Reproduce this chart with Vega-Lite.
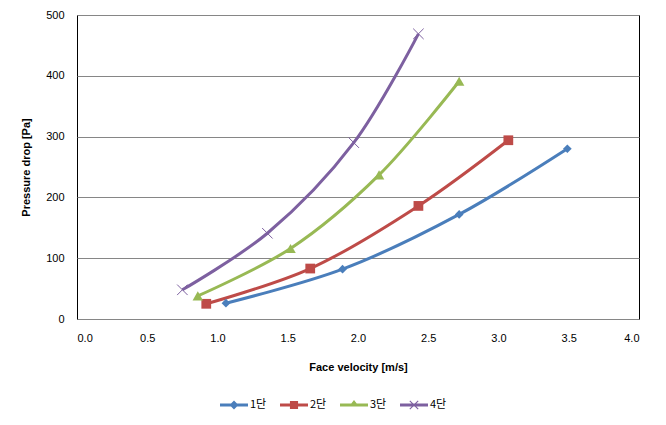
{
  "$schema": "https://vega.github.io/schema/vega-lite/v6.json",
  "autosize": "none",
  "width": 562,
  "height": 304,
  "padding": {"left": 77, "top": 15, "right": 27, "bottom": 106},
  "background": "white",
  "config": {
    "view": {"stroke": "#000000", "strokeWidth": 1},
    "font": "Liberation Sans",
    "axis": {
      "labelFont": "Liberation Sans",
      "labelFontSize": 11,
      "labelColor": "#000000",
      "titleFont": "Liberation Sans",
      "titleFontSize": 11,
      "titleFontWeight": "bold",
      "titleColor": "#000000",
      "ticks": false,
      "domain": false
    }
  },
  "data": {
    "values": [
      {"series": "1단", "v": 1.06, "p": 26},
      {"series": "1단", "v": 1.89, "p": 82},
      {"series": "1단", "v": 2.72, "p": 172},
      {"series": "1단", "v": 3.49, "p": 280},
      {"series": "2단", "v": 0.92, "p": 25},
      {"series": "2단", "v": 1.66, "p": 83},
      {"series": "2단", "v": 2.43, "p": 186},
      {"series": "2단", "v": 3.07, "p": 294},
      {"series": "3단", "v": 0.86, "p": 38},
      {"series": "3단", "v": 1.52, "p": 116},
      {"series": "3단", "v": 2.15, "p": 237},
      {"series": "3단", "v": 2.72, "p": 391},
      {"series": "4단", "v": 0.75, "p": 48},
      {"series": "4단", "v": 1.355, "p": 141},
      {"series": "4단", "v": 1.97, "p": 290},
      {"series": "4단", "v": 2.43, "p": 469}
    ]
  },
  "encoding": {
    "x": {
      "field": "v", "type": "quantitative",
      "scale": {"domain": [0, 4], "nice": false, "zero": false},
      "axis": {"values": [0, 0.5, 1, 1.5, 2, 2.5, 3, 3.5, 4], "format": ".1f", "grid": false, "labelPadding": 13, "title": "Face velocity [m/s]", "titlePadding": 18}
    },
    "y": {
      "field": "p", "type": "quantitative",
      "scale": {"domain": [0, 500], "nice": false},
      "axis": {"values": [0, 100, 200, 300, 400, 500], "grid": true, "gridColor": "#868686", "gridWidth": 1, "labelPadding": 13, "title": "Pressure drop [Pa]", "titlePadding": 14}
    }
  },
  "layer": [
    {
      "mark": {"type": "line", "interpolate": "catmull-rom", "strokeWidth": 3},
      "encoding": {
        "color": {
          "field": "series", "type": "nominal",
          "scale": {"domain": ["1단", "2단", "3단", "4단"], "range": ["#4A7EBB", "#BE4B48", "#98B954", "#7D60A0"]},
          "legend": {
            "title": null,
            "orient": "none",
            "direction": "horizontal",
            "legendX": 143,
            "legendY": 376,
            "padding": 0,
            "symbolSize": 784,
            "labelFont": "Noto Sans CJK KR",
            "labelFontSize": 11,
            "labelColor": "#000000",
            "labelOffset": 2,
            "columnPadding": 13,
            "encode": {
              "symbols": {
                "update": {
                  "shape": {"signal": "datum.value === '1단' ? 'M-1,-0.107H1V0.107H-1Z M0,-0.32L0.32,0L0,0.32L-0.32,0Z' : datum.value === '2단' ? 'M-1,-0.107H1V0.107H-1Z M-0.29,-0.29H0.29V0.29H-0.29Z' : datum.value === '3단' ? 'M-1,-0.107H1V0.107H-1Z M0,-0.36L0.36,0.1L-0.36,0.1Z' : 'M-1,-0.107H1V0.107H-1Z M-0.328,-0.272L-0.272,-0.328L0.328,0.272L0.272,0.328Z M-0.328,0.272L0.272,-0.328L0.328,-0.272L-0.272,0.328Z'"},
                  "size": {"value": 784},
                  "fill": {"signal": "scale('color', datum.value)"},
                  "stroke": {"value": "transparent"},
                  "strokeWidth": {"value": 0},
                  "opacity": {"value": 1}
                }
              }
            }
          }
        }
      }
    },
    {
      "transform": [{"filter": "datum.series === '1단'"}],
      "mark": {"type": "point", "shape": "diamond", "filled": true, "opacity": 1, "size": 75, "color": "#4A7EBB"}
    },
    {
      "transform": [{"filter": "datum.series === '2단'"}],
      "mark": {"type": "point", "shape": "square", "filled": true, "opacity": 1, "size": 95, "color": "#BE4B48"}
    },
    {
      "transform": [{"filter": "datum.series === '3단'"}],
      "mark": {"type": "point", "shape": "triangle-up", "filled": true, "opacity": 1, "size": 110, "color": "#98B954"}
    },
    {
      "transform": [{"filter": "datum.series === '4단'"}],
      "mark": {"type": "point", "shape": "M-1,-1L1,1M-1,1L1,-1", "filled": false, "opacity": 1, "size": 110, "strokeWidth": 1, "color": "#7D60A0"}
    }
  ]
}
